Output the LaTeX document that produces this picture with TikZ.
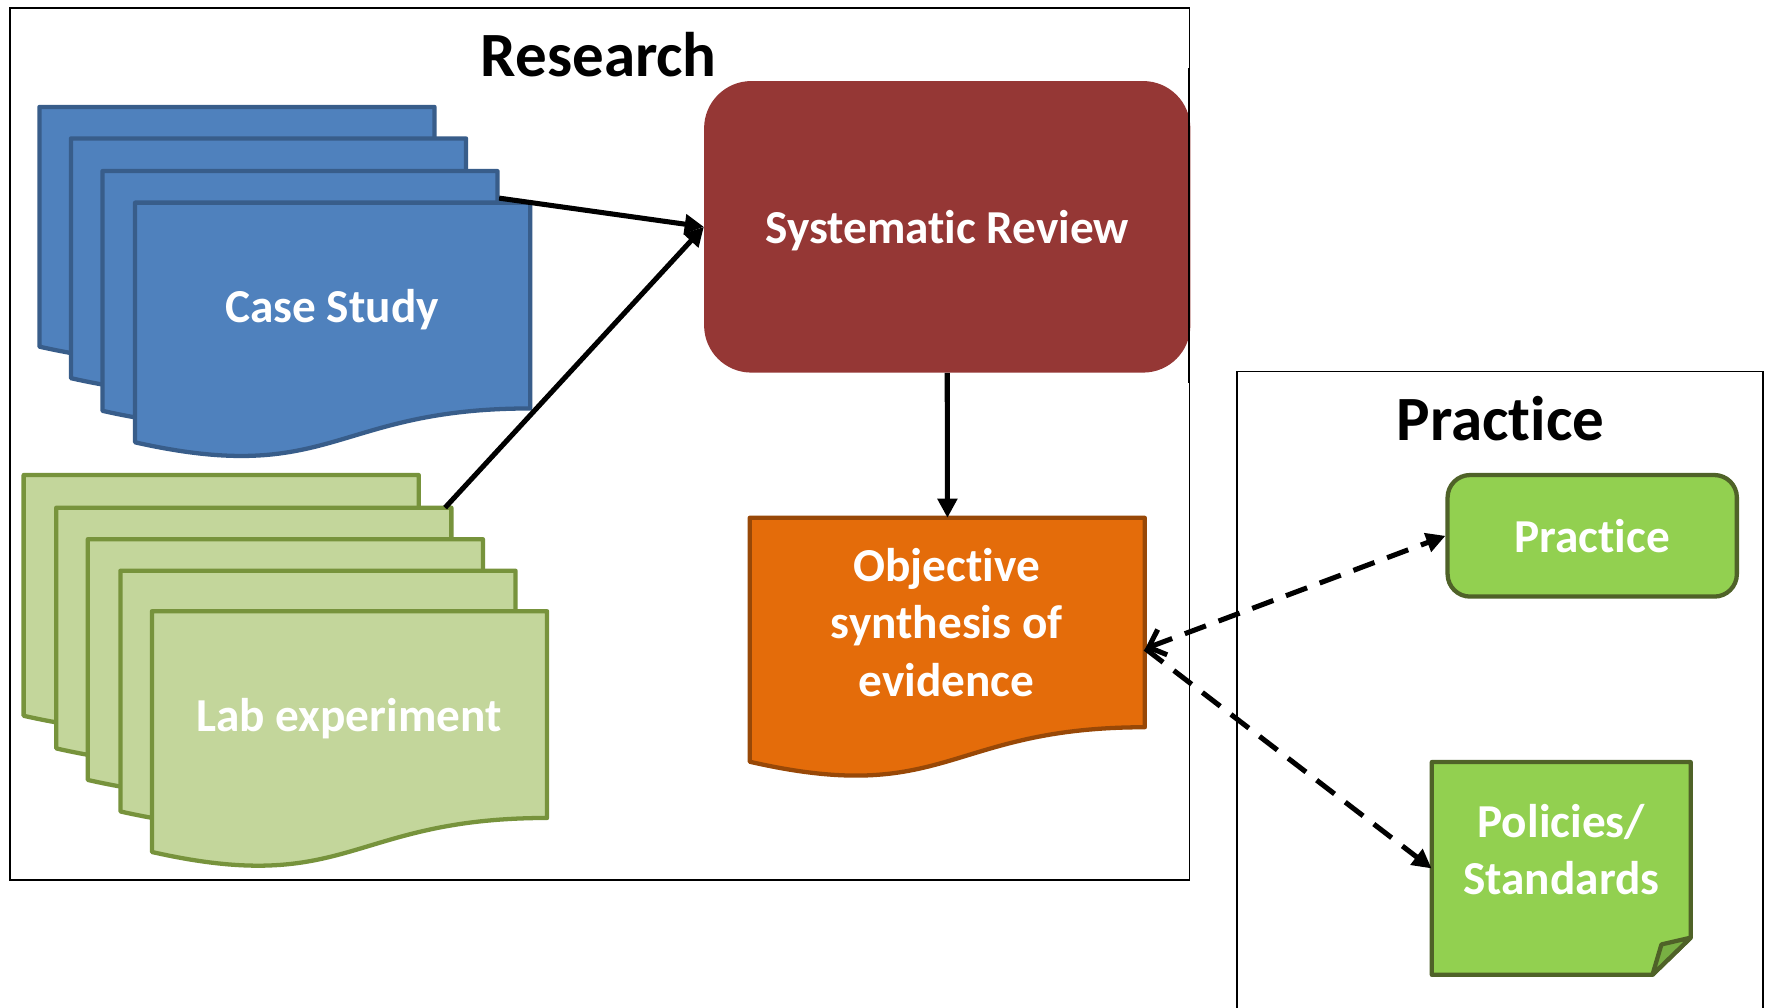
\documentclass[tikz,border=0pt]{standalone}
\usepackage{fontspec}
\setmainfont{Carlito}[Ligatures=NoCommon]
\usetikzlibrary{arrows.meta,calc}
\definecolor{bluefill}{HTML}{4F81BD}
\definecolor{blueline}{HTML}{385D8A}
\definecolor{labfill}{HTML}{C3D69B}
\definecolor{labline}{HTML}{77933C}
\definecolor{srfill}{HTML}{953735}
\definecolor{objfill}{HTML}{E46C0A}
\definecolor{objline}{HTML}{984807}
\definecolor{prfill}{HTML}{92D050}
\definecolor{prline}{HTML}{4F6228}
\definecolor{foldfill}{HTML}{78B043}
\newcommand{\docshape}[5]{%
  \pgfmathsetmacro{\dxR}{#2+351}%
  \pgfmathsetmacro{\dxM}{#2+175.5}%
  \pgfmathsetmacro{\dyR}{#3+0.802*#4}%
  \pgfmathsetmacro{\dyL}{#3+0.934*#4}%
  \pgfmathsetmacro{\dyC}{#3+1.107*#4}%
  \draw[#5] (#2,#3) -- (\dxR,#3) -- (\dxR,\dyR) .. controls (\dxM,\dyR) and (\dxM,\dyC) .. (#2,\dyL) -- cycle;
  \node[inner sep=0pt, minimum width=351pt, minimum height=#4pt, anchor=north west] (#1) at (#2,#3) {};
}
\begin{document}
\begin{tikzpicture}[x=1pt,y=-1pt,
  frame/.style={draw=black, line width=1.6pt},
  doc/.style={line width=3.8pt, line join=round},
  bluedoc/.style={doc, fill=bluefill, draw=blueline},
  labdoc/.style={doc, fill=labfill, draw=labline},
  objdoc/.style={doc, fill=objfill, draw=objline},
  wtext/.style={text=white, font=\bfseries\fontsize{42}{51}\selectfont, align=center, inner sep=0pt},
  title/.style={font=\bfseries\fontsize{56}{60}\selectfont, inner sep=0pt, anchor=base},
  arr/.style={line width=4.5pt, -{Triangle[length=17pt,width=17pt]}},
  darr/.style={line width=4.5pt, dash pattern=on 20pt off 12pt}]
\useasboundingbox (0,0) rectangle (1568,895);
\fill[white] (0,0) rectangle (1568,895);
% frames
\node[frame, minimum width=1048pt, minimum height=775pt, anchor=north west, inner sep=0pt] (research) at (8,6) {};
\draw[frame] (1099,900) -- (1099,330) coordinate (pfl) -- (1566,330) -- (1566,900);
\node[title] (restitle) at (532,68) {Research};
\node[title] (practitle) at (1333,391) {Practice};
% systematic review
\node[fill=srfill, rounded corners=42pt, minimum width=432pt, minimum height=259pt, wtext, text depth=0pt] (sr) at (841.5,201.5) {Systemat\kern0pt ic Review};
\draw[frame] (1056,60) -- (1056,340);
% case study stack
\docshape{cs1}{35}{95}{228}{bluedoc}
\docshape{cs2}{63}{123}{228}{bluedoc}
\docshape{cs3}{91}{152}{228}{bluedoc}
\docshape{cs4}{120}{180}{228}{bluedoc}
\node[wtext, anchor=base] (cstext) at (295,286.5) {Case Study};
% lab experiment stack
\docshape{le1}{21}{422}{229}{labdoc}
\docshape{le2}{50}{451}{229}{labdoc}
\docshape{le3}{78}{479}{229}{labdoc}
\docshape{le4}{107}{507}{229}{labdoc}
\docshape{le5}{135}{543}{229}{labdoc}
\node[wtext, anchor=base] (letext) at (310,649.5) {Lab experiment};
% objective synthesis
\docshape{obj}{666}{460}{232}{objdoc}
\node[wtext] (objtext) at (841,553) {Objective\\synthesis of\\evidence};
% arrows into review
\coordinate (csout) at ($(cs3.north east)+(1,24)$);
\coordinate (leout) at ($(le2.north east)+(-6,0)$);
\draw[arr] (csout) -- (sr.west);
\draw[arr] (leout) -- (sr.west);
\draw[arr] (sr.south) -- (obj.north);
% practice side
\node[fill=prfill, draw=prline, line width=3.8pt, rounded corners=20pt, minimum width=257pt, minimum height=108pt, wtext, text depth=0pt] (prac) at (1414.5,476) {Practice};
\draw[line width=3.8pt, line join=round, fill=prfill, draw=prline] (1272,677) -- (1502,677) -- (1502,833) -- (1468,866) -- (1272,866) -- cycle;
\draw[line width=3.8pt, line join=round, fill=foldfill, draw=prline] (1502,833) -- (1476,839) -- (1468,866) -- cycle;
\node[inner sep=0pt, minimum width=230pt, minimum height=189pt] (pol) at (1387,771.5) {};
\node[wtext] (poltext) at (1387,755) {Policies/\\Standards};
% dashed connectors
\draw[darr, {Straight Barb[length=13pt,width=24pt]}-{Triangle[length=17pt,width=17pt]}] (obj.east) -- (prac.west);
\draw[darr, -{Triangle[length=17pt,width=17pt]}] (obj.east) -- (pol.west);
\end{tikzpicture}
\end{document}
